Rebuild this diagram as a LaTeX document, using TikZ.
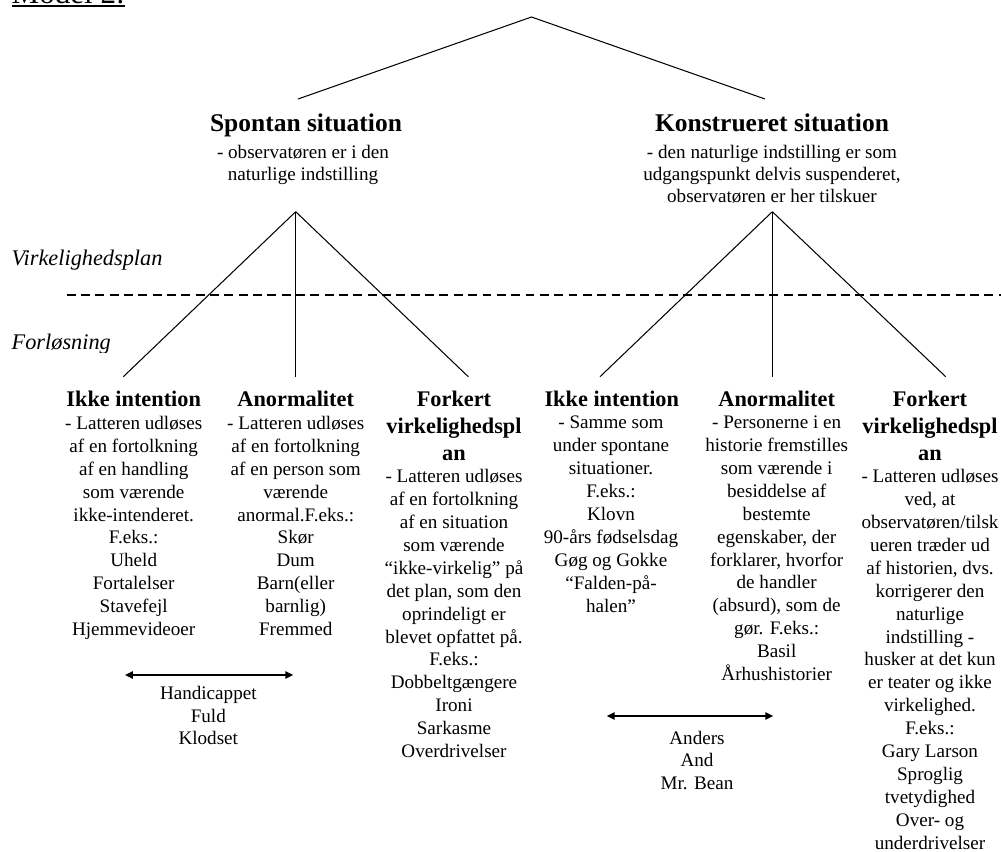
\documentclass[tikz,border=0pt]{standalone}
\usepackage{fontspec}
\setmainfont{Liberation Serif}
\usetikzlibrary{arrows.meta}
\begin{document}
\begin{tikzpicture}[x=0.6277pt,y=-0.6277pt,
  every node/.style={inner sep=0pt, outer sep=0pt},
  titletxt/.style={anchor=base, font=\fontsize{16}{19}\selectfont\bfseries},
  subtxt/.style={anchor=north, align=center, font=\fontsize{12}{13.8}\selectfont},
  headtxt/.style={anchor=base, font=\fontsize{14}{16.9}\selectfont\bfseries},
  headmulti/.style={anchor=north, align=center, font=\fontsize{14}{16.9}\selectfont\bfseries},
  bodytxt/.style={anchor=north, align=center, font=\fontsize{12}{14.37}\selectfont},
  arrtxt/.style={anchor=north, align=center, font=\fontsize{12}{14.12}\selectfont},
  leveltxt/.style={anchor=base west, font=\fontsize{14}{16}\selectfont\itshape},
  tree/.style={line width=0.65pt},
  planline/.style={line width=1.3pt, dash pattern=on 5.6pt off 3.4pt},
  twoway/.style={{Triangle[length=5pt,width=4.6pt]}-{Triangle[length=5pt,width=4.6pt]}, line width=0.9pt}
]
\useasboundingbox (0,0) rectangle (1001,851);
\clip (0,0) rectangle (1001,851);

% heading
\node[anchor=base west, font=\fontsize{19.5}{22}\selectfont] (model) at (11.7,3.5) {Model 2:};
\draw[line width=1.2pt] ([yshift=-1.6pt]model.base west) -- ([yshift=-1.6pt]model.base east);

% coordinates of the tree
\coordinate (top) at (531.5,17);
\coordinate (spA) at (298,99);
\coordinate (koA) at (765,99);
\coordinate (spB) at (295.7,211.7);
\coordinate (koB) at (772.3,211.7);
\coordinate (l1) at (123.3,376.7);
\coordinate (l2) at (295.7,376.7);
\coordinate (l3) at (468.3,376.7);
\coordinate (r1) at (600,376.7);
\coordinate (r2) at (772.3,376.7);
\coordinate (r3) at (945.7,376.7);
\coordinate (dl) at (66.7,295);
\coordinate (dr) at (1001,295);

\draw[tree] (spA) -- (top) -- (koA);
\draw[tree] (spB) -- (l1);
\draw[tree] (spB) -- (l2);
\draw[tree] (spB) -- (l3);
\draw[tree] (koB) -- (r1);
\draw[tree] (koB) -- (r2);
\draw[tree] (koB) -- (r3);
\draw[planline] (dl) -- (dr);

% level labels
\node[leveltxt] (virk) at (11.7,265.5) {Virkelighedsplan};
\begin{scope}
\clip (0,320) rectangle (200,352);
\node[leveltxt] (forl) at (11.7,349.5) {Forløsning};
\end{scope}

% situations
\node[titletxt] (spT) at (306,131.7) {Spontan situation};
\node[subtxt] (spS) at (303,145.1) {- observatøren er i den\\naturlige indstilling};
\node[titletxt] (koT) at (772,131.7) {Konstrueret situation};
\node[subtxt] (koS) at (772,145.1) {- den naturlige indstilling er som\\udgangspunkt delvis suspenderet,\\observatøren er her tilskuer};

% columns, left
\node[headtxt] (c1h) at (133.7,406) {Ikke intention};
\node[bodytxt] (c1b) at (133.7,416.2) {- Latteren udløses\\af en fortolkning\\af en handling\\som værende\\ikke-intenderet.\\F.eks.:\\Uheld\\Fortalelser\\Stavefejl\\Hjemmevideoer};
\node[headtxt] (c2h) at (295.7,406) {Anormalitet};
\node[bodytxt] (c2b) at (295.7,416.2) {- Latteren udløses\\af en fortolkning\\af en person som\\værende\\anormal.F.eks.:\\Skør\\Dum\\Barn(eller\\barnlig)\\Fremmed};
\node[headmulti] (c3h) at (454,391.2) {Forkert\\virkelighedspl\\an};
\node[bodytxt] (c3b) at (454,469.5) {- Latteren udløses\\af en fortolkning\\af en situation\\som værende\\“ikke-virkelig” på\\det plan, som den\\oprindeligt er\\blevet opfattet på.\\F.eks.:\\Dobbeltgængere\\Ironi\\Sarkasme\\Overdrivelser};

% columns, right
\node[headtxt] (c4h) at (611.8,406) {Ikke intention};
\node[bodytxt] (c4b) at (611,416.2) {- Samme som\\under spontane\\situationer.\\F.eks.:\\Klovn\\90-års fødselsdag\\Gøg og Gokke\\“Falden-på-\\halen”};
\node[headtxt] (c5h) at (776.7,406) {Anormalitet};
\node[bodytxt] (c5b) at (776.7,416) {- Personerne i en\\historie fremstilles\\som værende i\\besiddelse af\\bestemte\\egenskaber, der\\forklarer, hvorfor\\de handler\\(absurd), som de\\gør. F.eks.:\\Basil\\Århushistorier};
\node[headmulti] (c6h) at (930,391.2) {Forkert\\virkelighedspl\\an};
\node[bodytxt] (c6b) at (930,469.5) {- Latteren udløses\\ved, at\\observatøren/tilsk\\ueren træder ud\\af historien, dvs.\\korrigerer den\\naturlige\\indstilling -\\husker at det kun\\er teater og ikke\\virkelighed.\\F.eks.:\\Gary Larson\\Sproglig\\tvetydighed\\Over- og\\underdrivelser};

% double arrows with examples
\coordinate (a1l) at (125,675);
\coordinate (a1r) at (293.3,675);
\draw[twoway] (a1l) -- (a1r);
\node[arrtxt] (e1) at (208.3,686.5) {Handicappet\\Fuld\\Klodset};
\coordinate (a2l) at (606.7,716);
\coordinate (a2r) at (773.3,716);
\draw[twoway] (a2l) -- (a2r);
\node[arrtxt] (e2) at (697,730.8) {Anders\\And\\Mr. Bean};
\end{tikzpicture}
\end{document}
